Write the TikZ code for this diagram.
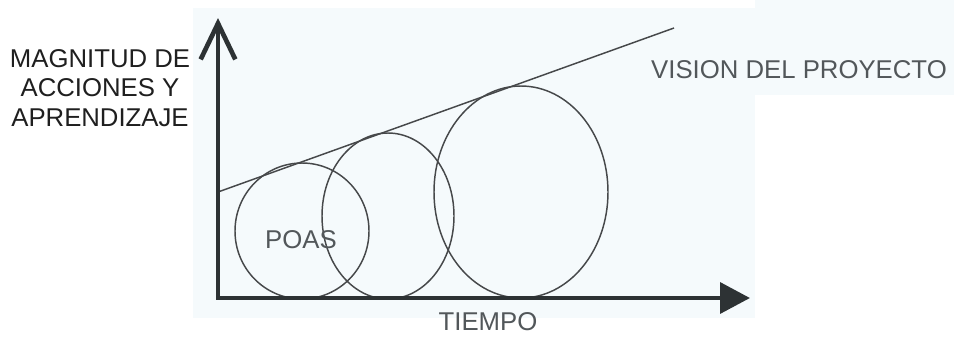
\documentclass[tikz,border=0pt]{standalone}
\usepackage{fontspec}
\setmainfont{Liberation Sans}
\usetikzlibrary{arrows.meta}

\definecolor{panel}{RGB}{245,250,252}
\definecolor{axisgray}{RGB}{45,50,52}
\definecolor{linegray}{RGB}{70,72,74}
\definecolor{textgray}{RGB}{82,87,90}

\tikzset{
  axis/.style={draw=axisgray, line width=3.5pt},
  poa/.style={draw=linegray, line width=1.1pt},
  lbl/.style={inner sep=0pt, font=\fontsize{19.3}{22}\selectfont, text=textgray}
}

\begin{document}
\begin{tikzpicture}[x=0.75pt,y=-0.75pt]
  \useasboundingbox (0,0) rectangle (954,337);
  \fill[white] (0,0) rectangle (954,337);
  \fill[panel] (193,8) rectangle (755,318);
  \fill[panel] (755,0) rectangle (954,95);

  \coordinate (o) at (218,298);
  \coordinate (ytop) at (218,18);
  \coordinate (xend) at (750,298);
  \coordinate (v0) at (218,192);
  \coordinate (v1) at (674,28);

  % POAs
  \draw[poa] (302,231) ellipse [x radius=50.25pt, y radius=51pt];
  \draw[poa] (388,216) ellipse [x radius=49.5pt, y radius=62.25pt];
  \draw[poa] (521,192) ellipse [x radius=65.25pt, y radius=79.5pt];

  % vision
  \draw[poa] (v0) -- (v1);

  \draw[axis, {Straight Barb[length=27pt,width=26pt]}-{Triangle[length=22.5pt,width=23pt]}]
    (ytop) -- (o) -- (xend);

  \node[lbl, text=black!88, align=center] (ylabel) at (100,88) {MAGNITUD DE\\ACCIONES Y\\APRENDIZAJE};
  \node[lbl] (xlabel) at (488,322) {TIEMPO};
  \node[lbl] (vision) at (799,70) {VISION DEL PROYECTO};
  \node[lbl] (poas) at (301,240) {POAS};
\end{tikzpicture}
\end{document}
